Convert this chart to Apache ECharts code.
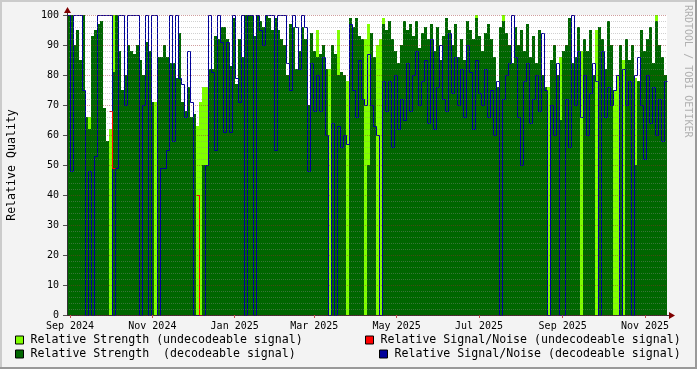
<!DOCTYPE html>
<html><head><meta charset="utf-8">
<script src="https://cdn.jsdelivr.net/npm/echarts@6/dist/echarts.min.js"></script>
<style>html,body{margin:0;padding:0;background:#f3f3f3}#c{width:697px;height:369px}</style>
</head><body><div id="c"></div>
<script>
// ---- data (one sample per ~2.2 days, Aug 30 2024 .. Nov 17 2025) ----
const strengthDecodeable = [
100,100,90,95,85,100,66,62,93,95,
97,98,69,58,0,81,100,88,75,80,
90,88,87,90,85,80,91,88,71,0,
86,86,90,86,84,84,79,94,71,68,
76,66,67,0,0,50,50,82,82,93,
92,96,96,92,83,99,77,92,86,100,
100,100,93,100,98,96,100,99,95,99,
95,92,90,80,97,96,82,88,96,92,
70,94,88,86,87,90,82,0,90,87,
80,81,80,0,99,96,99,93,92,0,
50,94,86,0,0,97,95,98,92,88,
84,90,98,95,97,93,98,89,94,96,
92,97,88,96,85,93,99,95,90,97,
86,92,85,98,95,92,99,93,88,94,
97,92,86,76,96,98,94,90,84,96,
90,95,88,97,86,93,84,95,80,76,
0,85,90,80,65,88,90,99,84,86,
96,0,92,88,95,80,0,96,92,82,
98,90,0,0,90,0,92,85,90,50,
78,95,88,92,96,84,98,90,86,80];
const strengthUndecodeable = [
0,0,0,0,0,0,0,66,0,0,
0,0,0,0,62,100,0,0,0,0,
0,0,0,0,0,0,0,0,0,71,
0,0,0,0,0,0,0,0,0,0,
0,0,0,63,71,76,76,0,0,0,
0,0,0,0,0,0,0,0,0,0,
0,0,0,0,0,0,0,0,0,0,
0,0,0,0,0,0,0,0,0,0,
0,0,0,95,0,0,0,82,0,0,
95,0,0,78,0,0,0,0,0,92,
97,0,0,90,92,99,0,0,0,0,
0,0,0,0,0,0,0,0,0,0,
0,0,0,0,0,0,0,0,0,0,
0,0,0,0,0,0,100,0,0,0,
0,0,0,0,0,100,0,0,0,0,
0,0,0,0,0,0,0,0,0,0,
76,0,0,0,86,0,0,0,0,0,
0,88,0,0,0,0,95,0,0,0,
0,0,75,80,0,85,0,0,0,79,
0,0,0,0,0,0,100,0,0,0];
const snDecodeable = [
100,48,100,100,100,75,0,48,0,53,
100,100,100,100,100,0,49,100,100,70,
100,100,100,100,0,70,100,0,100,100,
0,49,49,55,100,58,100,79,77,66,
88,71,0,0,0,0,50,100,81,55,
100,91,61,91,61,100,79,71,100,0,
100,100,0,100,95,90,100,100,100,55,
100,100,100,84,75,100,96,82,100,96,
48,84,68,80,68,86,60,0,64,0,
63,56,60,57,97,75,66,85,72,70,
87,70,63,60,0,78,68,78,56,80,
62,72,65,84,68,80,88,70,78,85,
64,92,62,76,90,72,68,94,74,86,
70,82,66,90,81,62,85,74,70,82,
66,75,60,78,0,72,80,84,100,86,
66,50,78,84,64,72,80,68,94,75,
0,70,60,84,0,0,72,56,100,70,
88,66,80,60,74,84,78,0,88,66,
76,70,75,80,0,82,70,78,0,80,
86,70,52,80,64,76,60,72,58,78];
const snUndecodeable = new Array(200).fill(null);
snUndecodeable[14] = 68; snUndecodeable[15] = 49;
snUndecodeable[43] = 40; snUndecodeable[44] = 0;

const monthTicks = ['2024-09-01','2024-11-01','2025-01-01','2025-03-01','2025-05-01','2025-07-01','2025-09-01','2025-11-01'];
const monthLabels = ['Sep 2024','Nov 2024','Jan 2025','Mar 2025','May 2025','Jul 2025','Sep 2025','Nov 2025'];
const yTicks = [0,10,20,30,40,50,60,70,80,90,100];

const names = ['Relative Strength (undecodeable signal)','Relative Signal/Noise (undecodeable signal)',
               'Relative Strength  (decodeable signal)','Relative Signal/Noise (decodeable signal)'];
const colors = ['#80ff00','#ff0000','#006600','#000099'];

// ---- build ----
const DAY = 86400000;
const COL = 2.2226 * DAY;
const START = Date.UTC(2024, 8, 1) - COL;
const N = strengthDecodeable.length;
const END = START + N * COL;
const tickMs = monthTicks.map(s => Date.parse(s + 'T00:00:00Z'));
function pts(arr) {
  const out = arr.map((v, i) => [START + i * COL, v]);
  out.push([END, arr[arr.length - 1]]);
  return out;
}
const FONT = 'DejaVu Sans Mono';
const chart = echarts.init(document.getElementById('c'), null, {renderer: 'canvas'});
function legendAt(idx, left, top) {
  return {
    data: [{name: names[idx], itemStyle: {color: colors[idx], borderColor: '#000', borderWidth: 1}}],
    left: left, top: top, padding: 0, icon: 'rect', itemWidth: 8, itemHeight: 8,
    selectedMode: false,
    textStyle: {fontFamily: FONT, fontSize: 11.6, color: '#000', padding: [0, 0, 0, 2]}
  };
}
const option = {
  animation: false,
  backgroundColor: '#f3f3f3',
  grid: {left: 67, right: 30, top: 15, bottom: 54, show: true, backgroundColor: '#ffffff', borderWidth: 0,
         containLabel: false, outerBoundsMode: 'none'},
  xAxis: [{
    type: 'value', min: START, max: END,
    axisLine: {show: true, lineStyle: {color: '#333'}},
    axisTick: {show: true, customValues: tickMs, length: 3, lineStyle: {color: '#c05050'}},
    axisLabel: {customValues: tickMs, fontFamily: FONT, fontSize: 10, color: '#000', margin: 6,
      formatter: v => { const k = tickMs.findIndex(t => Math.abs(t - v) < 1000); return k >= 0 ? monthLabels[k] : ''; }},
    splitLine: {show: false}
  }, {
    type: 'value', min: START - COL / 6, max: END - COL / 6, show: false
  }],
  yAxis: [{
    type: 'value', min: 0, max: 100, interval: 10, z: 3,
    name: 'Relative Quality', nameLocation: 'middle', nameGap: 49, nameRotate: 90,
    nameTextStyle: {fontFamily: FONT, fontSize: 11.6, color: '#000'},
    axisLine: {show: true, lineStyle: {color: '#333'}},
    axisTick: {show: true, length: 4, lineStyle: {color: '#555'}},
    axisLabel: {fontFamily: FONT, fontSize: 10, color: '#000', margin: 8,
      formatter: v => yTicks.includes(v) ? String(v) : ''},
    splitLine: {show: true, lineStyle: {color: 'rgba(150,40,40,0.45)', width: 1, type: [1, 1]}},
    minorTick: {show: false, splitNumber: 5},
    minorSplitLine: {show: true, lineStyle: {color: 'rgba(140,140,140,0.40)', width: 1, type: [1, 1]}}
  }, {
    type: 'value', min: 1 / 6, max: 100 + 1 / 6, show: false
  }],
  legend: [legendAt(0, 15, 334), legendAt(1, 365, 334), legendAt(2, 15, 348), legendAt(3, 379, 348)],
  series: [
    {name: names[0], type: 'line', step: 'end', data: pts(strengthUndecodeable), symbol: 'none', silent: true,
     color: colors[0], lineStyle: {width: 0}, areaStyle: {color: colors[0], opacity: 1}, z: 1},
    {name: names[2], type: 'line', step: 'end', data: pts(strengthDecodeable), symbol: 'none', silent: true,
     color: colors[2], lineStyle: {width: 0}, areaStyle: {color: colors[2], opacity: 1}, z: 1},
    {name: names[3], type: 'line', step: 'end', data: pts(snDecodeable), symbol: 'none', silent: true,
     xAxisIndex: 1, yAxisIndex: 1, color: colors[3], lineStyle: {width: 1, color: colors[3]}, z: 2},
    {name: names[1], type: 'line', step: 'end', data: snUndecodeable.map((v, i) => [START + i * COL, v]),
     symbol: 'none', silent: true, connectNulls: false,
     xAxisIndex: 1, yAxisIndex: 1, color: colors[1], lineStyle: {width: 1, color: colors[1]}, z: 2}
  ],
  graphic: [
    {type: 'rect', shape: {x: 0, y: 0, width: 697, height: 2}, style: {fill: '#cbcbcb'}, silent: true},
    {type: 'rect', shape: {x: 0, y: 0, width: 2, height: 369}, style: {fill: '#cbcbcb'}, silent: true},
    {type: 'rect', shape: {x: 0, y: 367, width: 697, height: 2}, style: {fill: '#999999'}, silent: true},
    {type: 'rect', shape: {x: 695, y: 0, width: 2, height: 369}, style: {fill: '#999999'}, silent: true},
    {type: 'line', shape: {x1: 67.5, y1: 15, x2: 67.5, y2: 10}, style: {stroke: '#333', lineWidth: 1}, silent: true},
    {type: 'line', shape: {x1: 667, y1: 315.5, x2: 671, y2: 315.5}, style: {stroke: '#333', lineWidth: 1}, silent: true},
    {type: 'polygon', shape: {points: [[64, 13], [71, 13], [67.5, 7]]}, style: {fill: '#7f0000'}, silent: true},
    {type: 'polygon', shape: {points: [[669, 312], [669, 319], [675, 315.5]]}, style: {fill: '#7f0000'}, silent: true},
    {type: 'text', x: 688, y: 5, rotation: -Math.PI / 2, silent: true,
     style: {text: 'RRDTOOL / TOBI OETIKER', fill: '#b0b0b0', font: '10px "DejaVu Sans Mono"', textAlign: 'left', textVerticalAlign: 'middle'}}
  ]
};
chart.setOption(option);
</script></body></html>
